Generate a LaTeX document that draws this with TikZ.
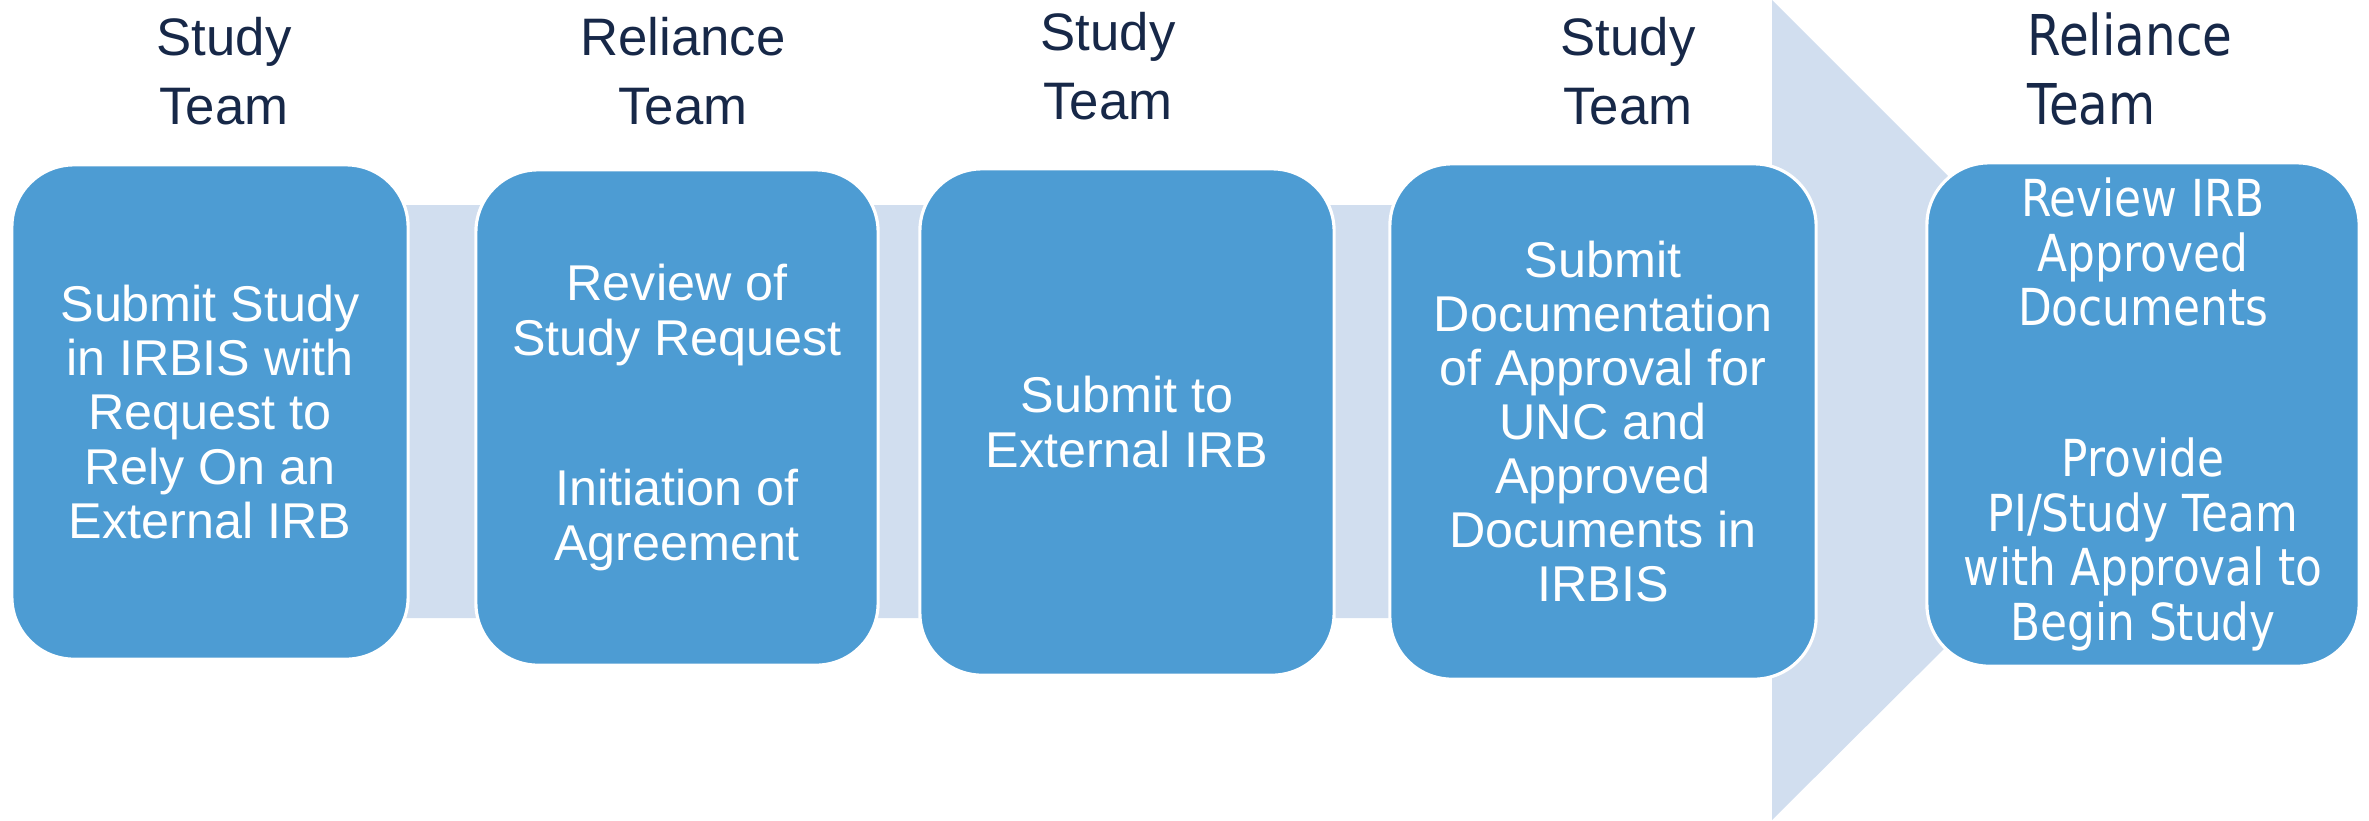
\documentclass[tikz,border=0pt]{standalone}
\usepackage{fontspec}
\setmainfont{Liberation Sans}
\newfontfamily\widefont[FakeStretch=0.86]{DejaVu Sans}
\definecolor{boxblue}{RGB}{77,156,211}
\definecolor{bandblue}{RGB}{209,222,239}
\definecolor{navy}{RGB}{23,40,72}
\tikzset{
  stage/.style 2 args={draw=white, line width=0.9pt, fill=boxblue, rounded corners=0.62cm,
    minimum width=#1, minimum height=#2, inner sep=0pt, align=center, text=white,
    font=\fontsize{14.3}{15.4}\selectfont},
  team/.style={text=navy, align=center, inner sep=0pt, font=\fontsize{15}{19.8}\selectfont}
}

\begin{document}
\begin{tikzpicture}[x=0.01cm, y=-0.01cm]
\useasboundingbox (0,0) rectangle (2369,820);
% background arrow
\fill[bandblue] (200,205) -- (1772,205) -- (1772,0) -- (2183,411) -- (1772,820) -- (1772,618) -- (200,618) -- cycle;

\node[stage={3.96cm}{4.94cm}] (submit) at (210,412) {Submit Study\\in IRBIS with\\Request to\\Rely On an\\External IRB};
\node[stage={4.02cm}{4.95cm}] (review) at (677,417.5) {Review of\\Study Request\\[27.5pt]Initiation of\\Agreement};
\node[stage={4.14cm}{5.06cm}] (external) at (1127,422) {Submit to\\External IRB};
\node[stage={4.26cm}{5.15cm}] (document) at (1603,421.5) {Submit\\Documentation\\of Approval for\\UNC and\\Approved\\Documents in\\IRBIS};
\node[stage={4.32cm}{5.03cm}, font=\widefont\fontsize{14.5}{15.5}\selectfont] (approve) at (2143,414.5) {Review IRB\\Approved\\Documents\\[27.5pt]Provide\\PI/Study Team\\with Approval to\\Begin Study};

% who does each step
\node[team] (team1) at (224,71) {Study\\Team};
\node[team] (team2) at (683,71) {Reliance\\Team};
\node[team] (team3) at (1108,66) {Study\\Team};
\node[team] (team4) at (1628,71) {Study\\Team};
\node[team, anchor=west, align=left, font=\widefont\fontsize{16}{19.8}\selectfont] (team5) at (2027,69) {Reliance\\Team};
\end{tikzpicture}
\end{document}
